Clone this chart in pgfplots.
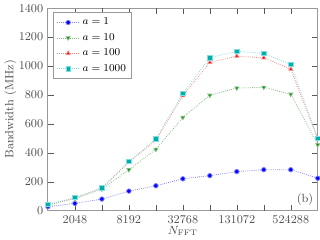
\documentclass[border=0pt]{standalone}
\usepackage{pgfplots}
\pgfplotsset{compat=1.18}
\definecolor{mgreen}{rgb}{0,0.5,0}
\definecolor{mcyan}{rgb}{0,0.75,0.75}
\begin{document}
\begin{tikzpicture}
\begin{axis}[
  scale only axis, width=204pt, height=153pt,
  xmode=log, log basis x=2,
  xmin=1024, xmax=1048576, ymin=0, ymax=1400,
  xtick={2048,8192,32768,131072,524288},
  xticklabels={2048,8192,32768,131072,524288},
  minor xtick={},
  extra x ticks={4096,16384,65536,262144},
  extra x tick labels={},
  ytick={0,200,400,600,800,1000,1200,1400},
  yticklabel style={/pgf/number format/1000 sep={}},
  scaled y ticks=false,
  tick align=inside,
  tick style={gray!70!black},
  axis line style={gray!80, line width=0.8pt},
  ticklabel style={font=\small, text=gray!60!black},
  label style={font=\small, text=gray!60!black},
  xlabel={$N_{\mathrm{FFT}}$}, ylabel={Bandwidth (MHz)},
  xlabel style={yshift=5pt}, ylabel style={yshift=-5pt},
  legend style={at={(0.02,0.98)}, anchor=north west, draw=gray!80, line width=0.8pt, font=\footnotesize, text=black, row sep=1pt, inner sep=2pt},
  legend cell align=left,
  every axis plot/.append style={densely dotted, line width=0.6pt, mark size=1.7pt},
  every mark/.append style={solid, draw=black!60, line width=0.3pt},
]
\addplot[blue!50, mark=*, mark options={solid, fill=blue}] coordinates {
(1024,27)(2048,50)(4096,80)(8192,135)(16384,172)(32768,220)(65536,242)(131072,270)(262144,283)(524288,283)(1048576,224)};
\addlegendentry{$a = 1$}
\addplot[mgreen!50, mark=triangle*, mark options={solid, fill=mgreen, rotate=180}] coordinates {
(1024,40)(2048,82)(4096,148)(8192,283)(16384,424)(32768,645)(65536,798)(131072,848)(262144,853)(524288,805)(1048576,455)};
\addlegendentry{$a = 10$}
\addplot[red!50, mark=triangle*, mark options={solid, fill=red!80!black}] coordinates {
(1024,40)(2048,88)(4096,155)(8192,335)(16384,486)(32768,795)(65536,1025)(131072,1069)(262144,1057)(524288,979)(1048576,494)};
\addlegendentry{$a = 100$}
\addplot[mcyan!50, mark=square*, mark options={solid, fill=mcyan!90!black}] coordinates {
(1024,42)(2048,90)(4096,158)(8192,340)(16384,497)(32768,812)(65536,1057)(131072,1103)(262144,1087)(524288,1011)(1048576,501)};
\addlegendentry{$a = 1000$}
\node[anchor=south east, font=\small, text=gray!60!black] at (rel axis cs:1,0) {(b)};
\end{axis}
\end{tikzpicture}
\end{document}
